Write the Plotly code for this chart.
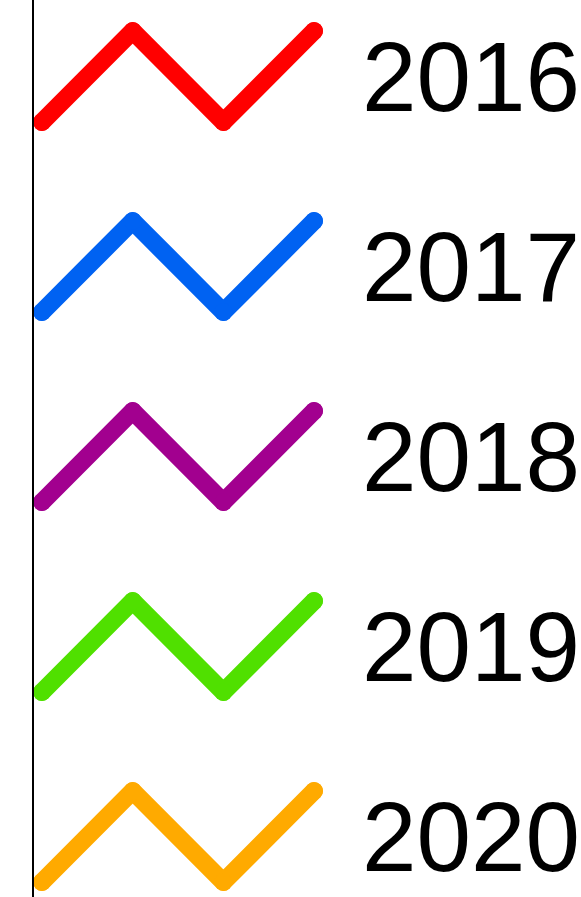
import plotly.graph_objects as go

years = ["2016", "2017", "2018", "2019", "2020"]
colors = ["#FF0000", "#0062F2", "#A2008F", "#50E000", "#FFAA00"]
x_points = [0, 1, 2, 3]
zigzag = [0, 1, 0, 1]

W, H = 581, 897
px_x = 90.67   # pixels per x unit
px_y = 91.0    # pixels per y unit
x0_px = 42     # pixel of x=0
top_px = 31    # pixel of first row value 1
row_gap = 190 / px_y

fig = go.Figure()
for k, (yr, c) in enumerate(zip(years, colors)):
    off = -k * row_gap
    ys = [v + off for v in zigzag]
    fig.add_trace(go.Scatter(
        x=x_points, y=ys, mode="lines+markers",
        line=dict(color=c, width=18),
        marker=dict(color=c, size=18, line=dict(width=0)),
        hoverinfo="skip", showlegend=False,
    ))
    fig.add_annotation(
        x=3.51, y=0.493 + off, text=yr, showarrow=False,
        xanchor="left", yanchor="middle",
        font=dict(family="Liberation Sans, Arial", size=98, color="black"),
    )

xr = [-x0_px / px_x, (W - x0_px) / px_x]
ytop = 1 + top_px / px_y
yr_ = [ytop - H / px_y, ytop]

fig.add_shape(type="line", xref="paper", yref="paper",
              x0=33 / W, x1=33 / W, y0=0, y1=1,
              line=dict(color="black", width=2))

fig.update_layout(
    width=W, height=H,
    margin=dict(l=0, r=0, t=0, b=0),
    paper_bgcolor="white", plot_bgcolor="white",
    xaxis=dict(range=xr, visible=False, fixedrange=True),
    yaxis=dict(range=yr_, visible=False, fixedrange=True),
)
post = (
    "document.body.style.margin='0';document.body.style.overflow='hidden';"
    "document.querySelectorAll('.js-line').forEach(function(p){"
    "p.style.strokeLinejoin='round';p.style.strokeLinecap='round';});"
)
fig.write_html("out.html", config={"displayModeBar": False}, post_script=post)
